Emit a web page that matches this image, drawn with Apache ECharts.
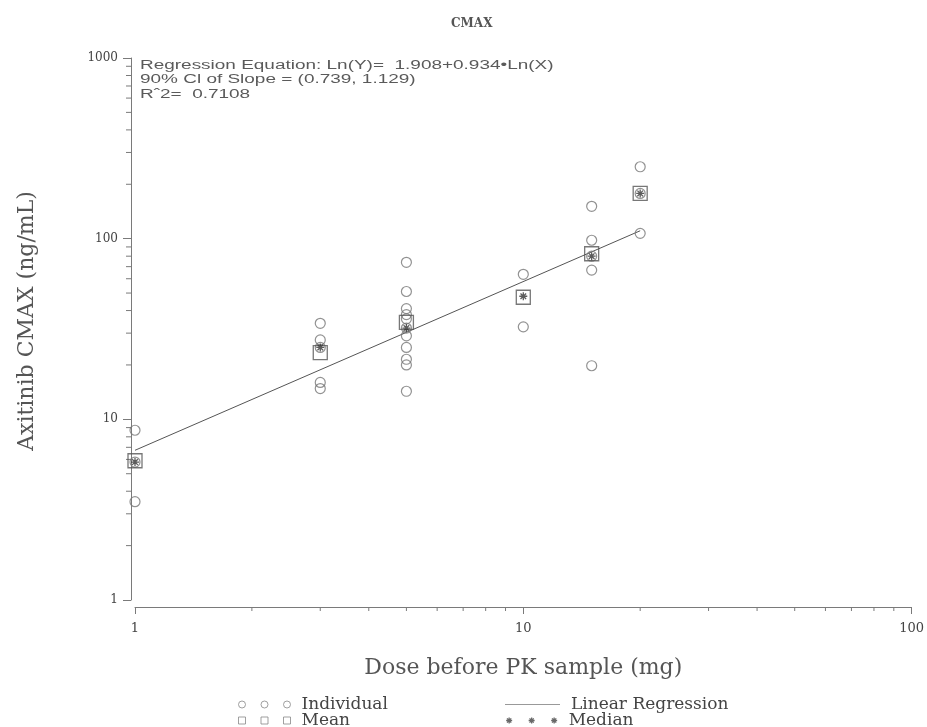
<!DOCTYPE html>
<html>
<head>
<meta charset="utf-8">
<script src="https://cdn.jsdelivr.net/npm/echarts@6/dist/echarts.min.js"></script>
<style>
  html, body { margin: 0; padding: 0; background: #fff; }
  #chart { width: 927px; height: 727px; }
</style>
</head>
<body>
<div id="chart"></div>
<script>
// dose (mg) and CMAX values
var individual = [
  [1, 8.7], [1, 5.8], [1, 3.5],
  [3, 34], [3, 27.5], [3, 25], [3, 16], [3, 14.8],
  [5, 74], [5, 51], [5, 41], [5, 38], [5, 36], [5, 32], [5, 29], [5, 25], [5, 21.5], [5, 20], [5, 14.3],
  [10, 63.5], [10, 32.5],
  [15, 151], [15, 98], [15, 80], [15, 67], [15, 19.8],
  [20, 250], [20, 178], [20, 107]
];
var meanVals = [[1, 5.9], [3, 23.4], [5, 34.4], [10, 47.4], [15, 82.5], [20, 178]];
var medianVals = [[1, 5.8], [3, 25], [5, 32], [10, 48], [15, 80], [20, 178]];
var regLine = [[1, 6.74], [20, 110.6]];

var yMinorTicks = [2, 3, 4, 5, 6, 7, 8, 9, 20, 30, 40, 50, 60, 70, 80, 90, 200, 300, 400, 500, 600, 700, 800, 900];
var xMinorTicks = [2, 3, 4, 5, 6, 7, 8, 9, 20, 30, 40, 50, 60, 70, 80, 90];

var annotation = [
  'Regression Equation: Ln(Y)=  1.908+0.934\u2022Ln(X)',
  '90% Cl of Slope = (0.739, 1.129)',
  'R\u02c62=  0.7108'
];

var grey = '#7a7a7a';
var serif = '"DejaVu Serif", "Liberation Serif", serif';

var circle3 = 'path://M0,3.5a3.5,3.5 0 1,0 7,0a3.5,3.5 0 1,0 -7,0M22.5,3.5a3.5,3.5 0 1,0 7,0a3.5,3.5 0 1,0 -7,0M45,3.5a3.5,3.5 0 1,0 7,0a3.5,3.5 0 1,0 -7,0';
var square3 = 'path://M0,0h7v7h-7zM22.5,0h7v7h-7zM45,0h7v7h-7z';
var star3 = 'path://M0.5,3.5h6M3.5,0.5v6M1.4,1.4l4.2,4.2M5.6,1.4l-4.2,4.2M23,3.5h6M26,0.5v6M23.9,1.4l4.2,4.2M28.1,1.4l-4.2,4.2M45.5,3.5h6M48.5,0.5v6M46.4,1.4l4.2,4.2M50.6,1.4l-4.2,4.2M0,0M52,7';
var lineIcon = 'path://M0,3h55v1.2h-55z';
var starSym = 'path://M0,4h8M4,0v8M1.2,1.2l5.6,5.6M6.8,1.2l-5.6,5.6';

function minorTickItem(axis) {
  return function (params, api) {
    var v = api.value(0);
    var p, shape;
    if (axis === 'y') {
      p = api.coord([1, v]);
      shape = { x1: p[0] - 4, y1: p[1], x2: p[0] - 9, y2: p[1] };
    } else {
      p = api.coord([v, 1]);
      shape = { x1: p[0], y1: p[1] + 7, x2: p[0], y2: p[1] + 11 };
    }
    return { type: 'line', shape: shape, style: { stroke: grey, lineWidth: 1 } };
  };
}

var legendText = { fontSize: 17, color: '#444', fontFamily: serif, padding: [0, 0, 0, 6] };

function legendRow(left, top, width, item) {
  return {
    orient: 'horizontal',
    left: left,
    top: top,
    padding: 0,
    itemWidth: width,
    itemHeight: 7,
    textStyle: legendText,
    data: [item]
  };
}

var myChart = echarts.init(document.getElementById('chart'));
myChart.setOption({
  animation: false,
  backgroundColor: '#fff',
  title: {
    text: 'CMAX',
    left: 446,
    top: 13,
    textStyle: { fontSize: 12, fontWeight: 'bold', color: '#555', fontFamily: serif }
  },
  grid: { left: 135, right: 14, top: 58, bottom: 127 },
  xAxis: {
    type: 'log',
    min: 1,
    max: 100,
    offset: 7,
    name: 'Dose before PK sample (mg)',
    nameLocation: 'middle',
    nameGap: 50,
    nameTextStyle: { fontSize: 22, color: '#555', fontFamily: serif },
    axisLine: { lineStyle: { color: grey } },
    axisTick: { length: 7, lineStyle: { color: grey } },
    axisLabel: { fontSize: 13, color: '#444', fontFamily: serif, margin: 15 },
    splitLine: { show: false }
  },
  yAxis: {
    type: 'log',
    min: 1,
    max: 1000,
    offset: 4,
    name: 'Axitinib CMAX (ng/mL)',
    nameLocation: 'middle',
    nameGap: 93,
    nameTextStyle: { fontSize: 22, color: '#555', fontFamily: serif, padding: [0, 0, 0, 16] },
    axisLine: { lineStyle: { color: grey } },
    axisTick: { length: 8, lineStyle: { color: grey } },
    axisLabel: {
      fontSize: 12, color: '#444', fontFamily: serif, margin: 13,
      formatter: function (v) { return String(v); }
    },
    splitLine: { show: false }
  },
  graphic: [{
    type: 'text',
    left: 140,
    top: 58,
    scaleX: 1.58,
    originX: 0,
    style: {
      text: annotation.join('\n'),
      font: '12px "Liberation Sans", "DejaVu Sans", sans-serif',
      fill: '#5a5a5a',
      lineHeight: 14.5
    }
  }],
  legend: [
    legendRow(238, 696, 52, { name: 'Individual', icon: circle3, itemStyle: { borderColor: '#888', borderWidth: 1 } }),
    legendRow(238, 712, 52, { name: 'Mean', icon: square3, itemStyle: { borderColor: '#888', borderWidth: 1 } }),
    legendRow(505, 696, 55, { name: 'Linear Regression', icon: lineIcon, itemStyle: { color: '#999', borderWidth: 0 } }),
    legendRow(505, 712, 52, { name: 'Median', icon: star3, itemStyle: { borderColor: '#444', borderWidth: 1.3 } })
  ],
  series: [
    {
      name: 'Individual',
      type: 'scatter',
      data: individual,
      symbol: 'circle',
      symbolSize: 10,
      itemStyle: { color: 'rgba(255,255,255,0)', borderColor: '#777', borderWidth: 1.2 },
      z: 3
    },
    {
      name: 'Mean',
      type: 'scatter',
      data: meanVals,
      symbol: 'rect',
      symbolSize: 14,
      itemStyle: { color: 'rgba(255,255,255,0)', borderColor: '#555', borderWidth: 1.3 },
      z: 4
    },
    {
      name: 'Median',
      type: 'scatter',
      data: medianVals,
      symbol: starSym,
      symbolSize: 8,
      itemStyle: { color: 'rgba(255,255,255,0)', borderColor: '#333', borderWidth: 1.3 },
      z: 5
    },
    {
      name: 'Linear Regression',
      type: 'line',
      data: regLine,
      showSymbol: false,
      symbol: 'none',
      lineStyle: { color: '#555', width: 1 },
      z: 2
    },
    {
      type: 'custom',
      data: yMinorTicks,
      renderItem: minorTickItem('y'),
      clip: false,
      silent: true
    },
    {
      type: 'custom',
      data: xMinorTicks,
      renderItem: minorTickItem('x'),
      clip: false,
      silent: true
    }
  ]
});
</script>
</body>
</html>
